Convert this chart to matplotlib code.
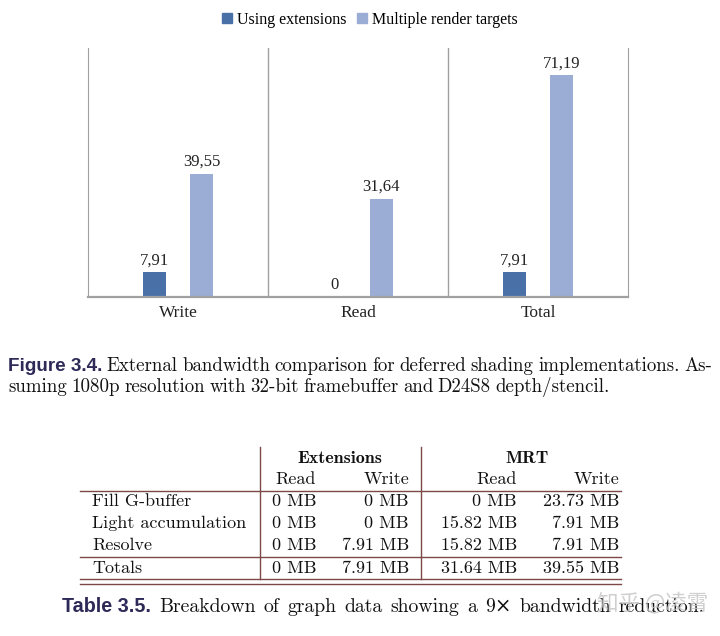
import numpy as np
import matplotlib
matplotlib.use('Agg')
import matplotlib.pyplot as plt
from matplotlib.lines import Line2D

# Datos del grafico
categorias = ['Write', 'Read', 'Total']
ext_vals = [7.91, 0, 7.91]
mrt_vals = [39.55, 31.64, 71.19]
series = ['Using extensions', 'Multiple render targets']

# Datos de la tabla
filas = ['Fill G-buffer', 'Light accumulation', 'Resolve']
ext_read = ['0 MB', '0 MB', '0 MB']
ext_write = ['0 MB', '0 MB', '7.91 MB']
mrt_read = ['0 MB', '15.82 MB', '15.82 MB']
mrt_write = ['23.73 MB', '7.91 MB', '7.91 MB']
totales = ['Totals', '0 MB', '7.91 MB', '31.64 MB', '39.55 MB']

c_ext = '#4a70a8'
c_mrt = '#9badd4'
c_gris = '#a0a0a0'
c_tabla = '#7d4848'
c_cap = '#2e2a58'

fig = plt.figure(figsize=(7.2, 6.36), dpi=100)

# ---------------- grafico de barras ----------------
ax = fig.add_axes([88 / 720, 1 - 297 / 636, (628 - 88) / 720, (297 - 48) / 636])
x = np.arange(len(categorias))
w = 0.13
b1 = ax.bar(x - 0.13, ext_vals, w, color=c_ext)
b2 = ax.bar(x + 0.13, mrt_vals, w, color=c_mrt)
fmt = lambda v: ('%g' % v).replace('.', ',')
ax.bar_label(b1, labels=[fmt(v) for v in ext_vals], padding=3, fontsize=12,
             family='Liberation Serif', color='#222222')
ax.bar_label(b2, labels=[fmt(v) for v in mrt_vals], padding=3, fontsize=12,
             family='Liberation Serif', color='#222222')
ax.set_xlim(-0.5, 2.5)
ax.set_ylim(0, 80)
ax.set_xticks(x)
ax.set_xticklabels(categorias, family='Liberation Serif', fontsize=12.5, color='#222222')
ax.set_yticks([])
ax.tick_params(axis='x', length=0, pad=6)
ax.spines['top'].set_visible(False)
for s in ['left', 'right', 'bottom']:
    ax.spines[s].set_color(c_gris)
ax.spines['bottom'].set_linewidth(1.6)
for xv in [0.5, 1.5]:
    ax.axvline(xv, color=c_gris, lw=1)

handles = [Line2D([], [], marker='s', ls='', color=c_ext, markersize=7),
           Line2D([], [], marker='s', ls='', color=c_mrt, markersize=7)]
fig.legend(handles, series, loc='center', bbox_to_anchor=(0.514, 1 - 20 / 636), ncol=2,
           frameon=False, handlelength=0.6, handletextpad=0.3, columnspacing=0.7,
           prop={'family': 'Liberation Serif', 'size': 11.5})

# ---------------- capa de texto en pixeles ----------------
ov = fig.add_axes([0, 0, 1, 1])
ov.set_xlim(0, 720)
ov.set_ylim(636, 0)
ov.axis('off')
ov.patch.set_alpha(0)

renderer = fig.canvas.get_renderer()
cm = ['cmr10', 'DejaVu Serif']
bold_sans = dict(family='Liberation Sans', weight='bold', color=c_cap)


def colocar(piezas, x0, y, size, x1=None, sep=None):
    textos = []
    for txt, kw in piezas:
        props = dict(family=cm, color='#111111')
        props.update(kw)
        textos.append(ov.text(x0, y, txt, fontsize=size, va='baseline', ha='left', **props))
    anchos = [t.get_window_extent(renderer).width for t in textos]
    hueco = sep if x1 is None else (x1 - x0 - sum(anchos)) / (len(textos) - 1)
    xx = x0
    for t, a in zip(textos, anchos):
        t.set_x(xx)
        xx += a + hueco
    return hueco


fs_cap = 13.6
linea1 = 'External bandwidth comparison for deferred shading implementations. As-'
hueco = colocar([('Figure 3.4.', bold_sans)] + [(p, {}) for p in linea1.split()], 8, 371, fs_cap, x1=712)
linea2 = 'suming 1080p resolution with 32-bit framebuffer and D24S8 depth/stencil.'
colocar([(p, {}) for p in linea2.split()], 8, 392, fs_cap, sep=hueco)

# tabla
lw = 1.0
ov.plot([80, 621], [491, 491], color=c_tabla, lw=lw)
ov.plot([80, 621], [557, 557], color=c_tabla, lw=lw)
ov.plot([80, 621], [579, 579], color=c_tabla, lw=lw)
ov.plot([80, 621], [584, 584], color=c_tabla, lw=lw)
for xv in [260, 421]:
    ov.plot([xv, xv], [447, 579], color=c_tabla, lw=lw)

ts = 13
ov.text(340, 463, 'Extensions', fontsize=ts, family=['cmb10', 'DejaVu Serif'],
        ha='center', va='baseline', color='#111111')
ov.text(527, 463, 'MRT', fontsize=ts, family=['cmb10', 'DejaVu Serif'],
        ha='center', va='baseline', color='#111111')
col_x = [316, 409, 517, 619]
for cx, h in zip(col_x, ['Read', 'Write', 'Read', 'Write']):
    ov.text(cx, 484, h, fontsize=ts, family=cm, ha='right', va='baseline', color='#111111')

fila_y = [506, 528, 550]
for i, yy in enumerate(fila_y):
    ov.text(92, yy, filas[i], fontsize=ts, family=cm, va='baseline', color='#111111')
    for cx, col in zip(col_x, [ext_read, ext_write, mrt_read, mrt_write]):
        ov.text(cx, yy, col[i], fontsize=ts, family=cm, ha='right', va='baseline', color='#111111')
ov.text(92, 573, totales[0], fontsize=ts, family=cm, va='baseline', color='#111111')
for cx, v in zip(col_x, totales[1:]):
    ov.text(cx, 573, v, fontsize=ts, family=cm, ha='right', va='baseline', color='#111111')

cap2 = 'Breakdown of graph data showing a 9\u00d7 bandwidth reduction.'
colocar([('Table 3.5.', bold_sans)] + [(p, {}) for p in cap2.split()], 62, 612, 14.2, x1=705)

# marca de agua
ov.text(708, 603, '知乎 @凌霄', fontsize=15.5, family=['Noto Sans CJK SC', 'DejaVu Sans'],
        color='#c4c4c4', alpha=0.8, ha='right', va='center')

fig.savefig('out.png', dpi=100)
